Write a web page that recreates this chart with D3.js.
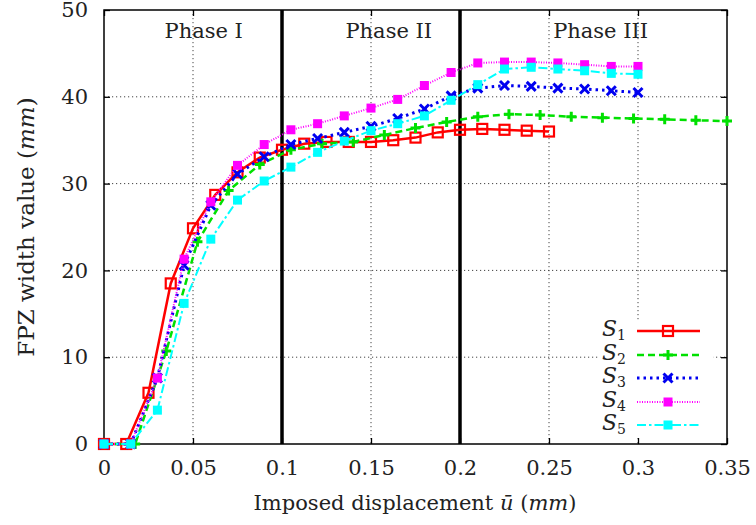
<!DOCTYPE html>
<html><head><meta charset="utf-8">
<script src="https://cdn.jsdelivr.net/npm/d3@7"></script>
<style>body{margin:0;background:#fff}svg{display:block}svg text{font-family:"DejaVu Serif","Liberation Serif",serif;fill:#222}</style>
</head><body><svg id="c" width="756" height="525"></svg>
<script>
const s1x = [0,0.0125,0.025,0.0375,0.05,0.0625,0.075,0.0875,0.1,0.1125,0.125,0.1375,0.15,0.1625,0.175,0.1875,0.2,0.2125,0.225,0.2375,0.25];
const s1y = [0,0,5.9,18.5,24.85,28.7,31.3,33.0,33.9,34.6,34.8,34.8,34.8,35.0,35.3,35.9,36.2,36.3,36.2,36.1,36.0];
const s2x = [0,0.0175,0.035,0.0525,0.07,0.0875,0.105,0.1225,0.14,0.1575,0.175,0.1925,0.21,0.2275,0.245,0.2625,0.28,0.2975,0.315,0.3325,0.35];
const s2y = [0,0,10.7,23.3,29.2,32.2,33.9,34.6,34.8,35.6,36.4,37.1,37.7,38.0,37.9,37.7,37.6,37.5,37.4,37.3,37.2];
const s3x = [0,0.015,0.03,0.045,0.06,0.075,0.09,0.105,0.12,0.135,0.15,0.165,0.18,0.195,0.21,0.225,0.24,0.255,0.27,0.285,0.3];
const s3y = [0,0,7.6,20.6,27.5,31.1,33.1,34.5,35.2,35.9,36.6,37.5,38.6,40.1,41.0,41.3,41.2,41.0,40.9,40.7,40.5];
const s4x = s3x;
const s4y = [0,0,7.6,21.3,27.9,32.1,34.5,36.2,36.9,37.8,38.7,39.7,41.3,42.8,43.9,44.0,44.0,43.9,43.7,43.5,43.5];
const s5x = s3x;
const s5y = [0,0,3.9,16.2,23.6,28.1,30.3,31.9,33.6,34.9,36.1,36.9,37.8,39.6,41.4,43.2,43.4,43.2,43.0,42.7,42.6];
const xTicks = [0,0.05,0.1,0.15,0.2,0.25,0.3,0.35];
const xTickLabels = ["0","0.05","0.1","0.15","0.2","0.25","0.3","0.35"];
const yTicks = [0,10,20,30,40,50];
const phaseBounds = [0.1,0.2];
const phaseNames = ["Phase I","Phase II","Phase III"];
const phaseLabelX = [0.056,0.16,0.279];
const seriesNames = ["1","2","3","4","5"];

const svg = d3.select("#c");
const L=104,R=727,T=10,B=444;
const x = d3.scaleLinear().domain([0,0.35]).range([L,R]);
const y = d3.scaleLinear().domain([0,50]).range([B,T]);
const FONT = '"DejaVu Serif","Liberation Serif",serif';

const series = [
 {xs:s1x, ys:s1y, color:"#ff0000", dash:null, w:2.5, mk:"osq"},
 {xs:s2x, ys:s2y, color:"#00e000", dash:"7,4", w:2.5, mk:"plus"},
 {xs:s3x, ys:s3y, color:"#0000f0", dash:"2.5,4", w:3, mk:"cross"},
 {xs:s4x, ys:s4y, color:"#ff00ff", dash:"1,1.5", w:2, mk:"fsq"},
 {xs:s5x, ys:s5y, color:"#00ffff", dash:"9,3,2.5,3", w:2, mk:"fsq"}
];

const g = svg.append("g");
xTicks.forEach(t=>{ if(t>0 && t<0.35 && !phaseBounds.includes(t)) g.append("line").attr("x1",x(t)).attr("x2",x(t)).attr("y1",T).attr("y2",B).attr("stroke","#444").attr("stroke-width",1).attr("stroke-dasharray","1.2,2.8");});
yTicks.forEach(t=>{ if(t>0 && t<50) g.append("line").attr("x1",L).attr("x2",R).attr("y1",y(t)).attr("y2",y(t)).attr("stroke","#444").attr("stroke-width",1).attr("stroke-dasharray","1.2,2.8");});

svg.append("rect").attr("x",598).attr("y",320).attr("width",115).attr("height",117).attr("fill","#fff");

const ax = d3.axisBottom(x).tickValues(xTicks).tickFormat((d,i)=>xTickLabels[i]).tickSize(-6).tickPadding(16);
const axT = d3.axisTop(x).tickValues(xTicks).tickFormat("").tickSize(-6);
const ay = d3.axisLeft(y).tickValues(yTicks).tickFormat(d3.format("d")).tickSize(-6).tickPadding(16);
const ayR = d3.axisRight(y).tickValues(yTicks).tickFormat("").tickSize(-6);
const styleAx = s=>{s.attr("font-family",FONT).attr("font-size",21); s.select(".domain").remove(); s.selectAll("line").attr("stroke","#000").attr("stroke-width",1.3); s.selectAll("text").attr("fill","#222");};
svg.append("g").attr("transform",`translate(0,${B})`).call(ax).call(styleAx);
svg.append("g").attr("transform",`translate(0,${T})`).call(axT).call(styleAx);
svg.append("g").attr("transform",`translate(${L},0)`).call(ay).call(styleAx);
svg.append("g").attr("transform",`translate(${R},0)`).call(ayR).call(styleAx);
svg.append("rect").attr("x",L).attr("y",T).attr("width",R-L).attr("height",B-T).attr("fill","none").attr("stroke","#000").attr("stroke-width",1.5);

phaseBounds.forEach(p=>svg.append("line").attr("x1",x(p)).attr("x2",x(p)).attr("y1",T).attr("y2",B).attr("stroke","#000").attr("stroke-width",3.5));
phaseNames.forEach((n,i)=>svg.append("text").attr("x",x(phaseLabelX[i])).attr("y",38).attr("text-anchor","middle").attr("font-size",21).text(n));

function marker(sel, type, cx, cy, color){
  if(type==="osq") sel.append("rect").attr("x",cx-5).attr("y",cy-5).attr("width",10).attr("height",10).attr("fill","none").attr("stroke",color).attr("stroke-width",2.2);
  else if(type==="fsq") sel.append("rect").attr("x",cx-4.5).attr("y",cy-4.5).attr("width",9).attr("height",9).attr("fill",color);
  else if(type==="plus") sel.append("path").attr("d",`M${cx-5},${cy}H${cx+5}M${cx},${cy-5}V${cy+5}`).attr("stroke",color).attr("stroke-width",3);
  else if(type==="cross") sel.append("path").attr("d",`M${cx-4.5},${cy-4.5}L${cx+4.5},${cy+4.5}M${cx-4.5},${cy+4.5}L${cx+4.5},${cy-4.5}`).attr("stroke",color).attr("stroke-width",3);
}

const line = d3.line().x(d=>x(d[0])).y(d=>y(d[1]));
series.forEach(s=>{
  const pts = s.xs.map((v,i)=>[v,s.ys[i]]);
  const gg = svg.append("g");
  gg.append("path").attr("d",line(pts)).attr("fill","none").attr("stroke",s.color).attr("stroke-width",s.w).attr("stroke-dasharray",s.dash);
  pts.forEach(p=>marker(gg,s.mk,x(p[0]),y(p[1]),s.color));
});

const ly = [331,355,378,402,425];
series.forEach((s,i)=>{
  const t = svg.append("text").attr("x",626).attr("y",ly[i]+5).attr("text-anchor","end").attr("font-size",22);
  t.append("tspan").attr("font-style","italic").text("S");
  t.append("tspan").attr("font-size",14).attr("dy",4).text(seriesNames[i]);
  svg.append("line").attr("x1",637).attr("x2",700).attr("y1",ly[i]).attr("y2",ly[i]).attr("stroke",s.color).attr("stroke-width",s.w).attr("stroke-dasharray",s.dash);
  marker(svg,s.mk,668,ly[i],s.color);
});

const xt = svg.append("text").attr("x",415).attr("y",510).attr("text-anchor","middle").attr("font-size",21);
xt.append("tspan").text("Imposed displacement ");
xt.append("tspan").attr("font-style","italic").text("ū");
xt.append("tspan").text(" (");
xt.append("tspan").attr("font-style","italic").text("mm");
xt.append("tspan").text(")");
const yt = svg.append("text").attr("transform","translate(34,227) rotate(-90)").attr("text-anchor","middle").attr("font-size",23);
yt.append("tspan").text("FPZ width value (");
yt.append("tspan").attr("font-style","italic").text("mm");
yt.append("tspan").text(")");
</script></body></html>
